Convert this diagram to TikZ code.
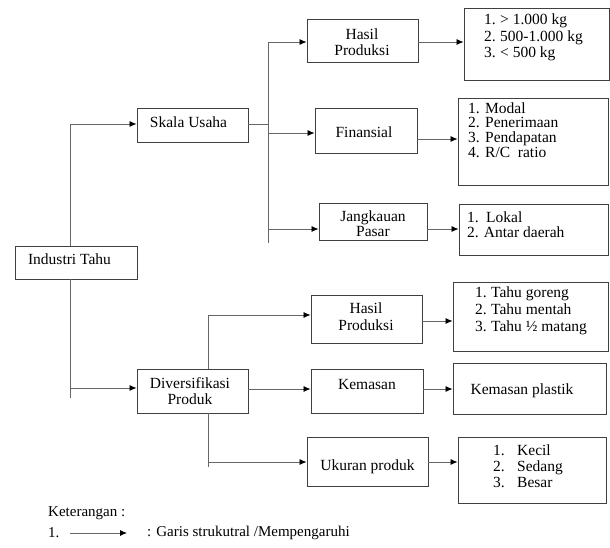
\documentclass[tikz,border=0pt]{standalone}
\usepackage{fontspec}
\setmainfont{Liberation Serif}
\newfontfamily\tnr{Liberation Serif}
\usetikzlibrary{arrows.meta}
\begin{document}
\begin{tikzpicture}[x=1pt,y=-1pt,
  box/.style={draw=black!75, line width=0.9pt, rectangle, inner sep=0pt},
  txt/.style={inner sep=0pt, font=\tnr\fontsize{15.5}{16.5}\selectfont},
  ln/.style={draw=black!60, line width=0.8pt},
  arr/.style={ln, -{Latex[length=7pt,width=6pt,black]}}]
\useasboundingbox (0,0) rectangle (610,548);
% boxes
\node[box, minimum width=122pt, minimum height=33pt] (IT) at (76,262.5) {};
\node[box, minimum width=111pt, minimum height=34pt] (SU) at (192.5,125) {};
\node[box, minimum width=111pt, minimum height=43pt] (HP1) at (362.5,40.5) {};
\node[box, minimum width=145pt, minimum height=72pt] (L1) at (536.5,44) {};
\node[box, minimum width=102pt, minimum height=45pt] (FIN) at (366,130.5) {};
\node[box, minimum width=150pt, minimum height=87pt] (L2) at (533,141.5) {};
\node[box, minimum width=108pt, minimum height=37pt] (JP) at (373,221.5) {};
\node[box, minimum width=149pt, minimum height=51pt] (L3) at (533.5,229.5) {};
\node[box, minimum width=111pt, minimum height=44pt] (DP) at (192.5,391) {};
\node[box, minimum width=111pt, minimum height=48pt] (HP2) at (366.5,319) {};
\node[box, minimum width=155pt, minimum height=69pt] (L4) at (530.5,316.5) {};
\node[box, minimum width=112pt, minimum height=44pt] (KM) at (367,391) {};
\node[box, minimum width=153pt, minimum height=51pt] (KP) at (529.5,388.5) {};
\node[box, minimum width=121pt, minimum height=49pt] (UP) at (367.5,461.5) {};
\node[box, minimum width=148pt, minimum height=66pt] (L5) at (532,470) {};
% texts
\node[txt] (ITt) at (69.5,259) {Industri Tahu};
\node[txt] (SUt) at (188.5,122) {Skala Usaha};
\node[txt, align=center] (HP1t) at (362,42) {Hasil\\Produksi};
\node[txt, align=left, anchor=west] (L1t) at (484,37.5) {\makebox[16pt][l]{1.}> 1.000 kg\\\makebox[16pt][l]{2.}500-1.000 kg\\\makebox[16pt][l]{3.}< 500 kg};
\node[txt] (FINt) at (364,132) {Finansial};
\node[txt, align=left, anchor=west, font=\tnr\fontsize{15.5}{14.8}\selectfont] (L2t) at (468,130) {\makebox[17pt][l]{1.}Modal\\\makebox[17pt][l]{2.}Penerimaan\\\makebox[17pt][l]{3.}Pendapatan\\\makebox[17pt][l]{4.}R/C\ \ ratio};
\node[txt, align=center, font=\tnr\fontsize{15.5}{15}\selectfont] (JPt) at (373,224) {Jangkauan\\Pasar};
\node[txt, align=left, anchor=west, font=\tnr\fontsize{15.5}{15}\selectfont] (L3t) at (467,224.5) {\makebox[19pt][l]{1.}Lokal\\2. Antar daerah};
\node[txt, align=center] (DPt) at (190,391) {Diversifikasi\\Produk};
\node[txt, align=center] (HP2t) at (366,316.5) {Hasil\\Produksi};
\node[txt, align=left, anchor=west, font=\tnr\fontsize{15.5}{17}\selectfont] (L4t) at (475,311) {\makebox[16pt][l]{1.}Tahu goreng\\\makebox[16pt][l]{2.}Tahu mentah\\\makebox[16pt][l]{3.}Tahu ½ matang};
\node[txt] (KMt) at (367,384) {Kemasan};
\node[txt] (KPt) at (522,391) {Kemasan plastik};
\node[txt] (UPt) at (367.5,467) {Ukuran produk};
\node[txt, align=left, anchor=west, font=\tnr\fontsize{15.5}{16}\selectfont] (L5t) at (493,466) {\makebox[24pt][l]{1.}Kecil\\\makebox[24pt][l]{2.}Sedang\\\makebox[24pt][l]{3.}Besar};
% upper connectors
\coordinate (a0) at (70,246);
\coordinate (a1) at (70,124);
\draw[ln] (a0) -- (a1);
\draw[arr] (a1) -- (a1 -| SU.west);
\coordinate (bT) at (268,42);
\coordinate (bB) at (268,243);
\coordinate (bS) at (268,124);
\coordinate (bF) at (268,133);
\coordinate (bJ) at (268,229);
\draw[ln] (bS -| SU.east) -- (bS);
\draw[ln] (bT) -- (bB);
\draw[arr] (bT) -- (bT -| HP1.west);
\draw[arr] (bF) -- (bF -| FIN.west);
\draw[arr] (bJ) -- (bJ -| JP.west);
\coordinate (c1) at (418,42);
\draw[arr] (c1) -- (c1 -| L1.west);
\coordinate (c2) at (417,139);
\draw[arr] (c2) -- (c2 -| L2.west);
\coordinate (c3) at (427,229);
\draw[arr] (c3) -- (c3 -| L3.west);
% lower connectors
\coordinate (d0) at (70,279);
\coordinate (d1) at (70,398);
\coordinate (d2) at (70,388);
\draw[ln] (d0) -- (d1);
\draw[arr] (d2) -- (d2 -| DP.west);
\coordinate (e1) at (208,369);
\coordinate (e2) at (208,315);
\draw[ln] (e1) -- (e2);
\draw[arr] (e2) -- (e2 -| HP2.west);
\coordinate (e3) at (248,389);
\draw[arr] (e3) -- (e3 -| KM.west);
\coordinate (e4) at (208,413);
\coordinate (e5) at (208,467);
\coordinate (e6) at (208,462);
\draw[ln] (e4) -- (e5);
\draw[arr] (e6) -- (e6 -| UP.west);
\coordinate (f1) at (422,321);
\draw[arr] (f1) -- (f1 -| L4.west);
\coordinate (f2) at (423,389);
\draw[arr] (f2) -- (f2 -| KP.west);
\coordinate (f3) at (428,462);
\draw[arr] (f3) -- (f3 -| L5.west);
% legend
\node[txt, anchor=west, font=\tnr\fontsize{15}{16}\selectfont] (ket) at (48,513) {Keterangan :};
\node[txt, anchor=west, font=\tnr\fontsize{15}{16}\selectfont] (n1) at (48,533) {1.};
\coordinate (la) at (70,533);
\coordinate (lb) at (127,533);
\draw[arr] (la) -- (lb);
\node[txt, anchor=west, font=\tnr\fontsize{15}{16}\selectfont] (gs) at (147,533) {: Garis strukutral /Mempengaruhi};
\end{tikzpicture}
\end{document}
